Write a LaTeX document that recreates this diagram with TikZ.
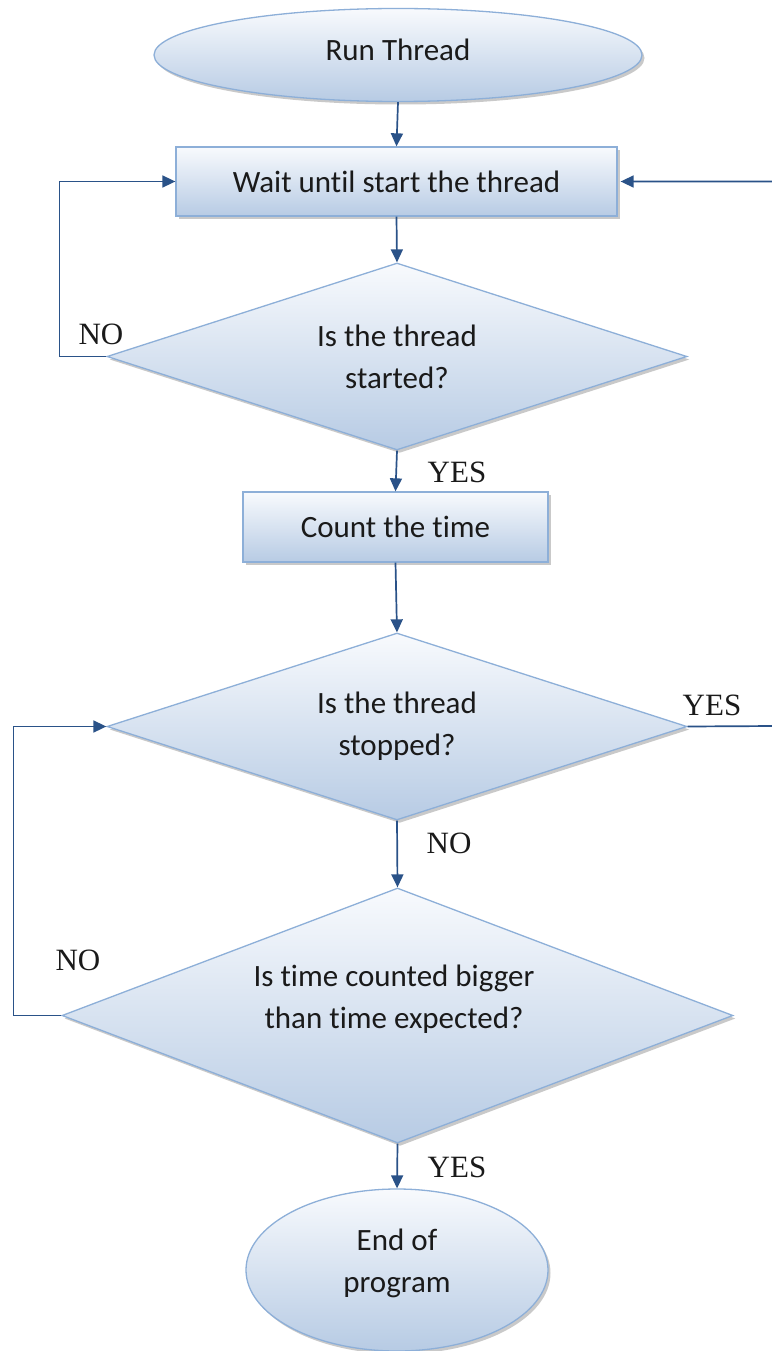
\documentclass[tikz,border=0pt]{standalone}
\usepackage{fontspec}
\setmainfont{Liberation Serif}
\newfontfamily\bodyfont[Ligatures=NoCommon]{Carlito}
\usetikzlibrary{shapes.geometric,shadows,arrows.meta}

\definecolor{edge}{HTML}{8DAFD8}
\definecolor{fillTop}{HTML}{F8FAFD}
\definecolor{fillBot}{HTML}{B7CBE4}
\definecolor{wire}{HTML}{2A5288}
\definecolor{ink}{HTML}{1A1A1A}

\tikzset{
  x=1pt, y=-1pt,
  shape base/.style={draw=edge, line width=1.3pt, top color=fillTop, bottom color=fillBot,
    drop shadow={shadow xshift=2.5pt, shadow yshift=-3pt, fill=black!35, opacity=0.6},
    inner sep=0pt, text=ink, align=center,
    font=\bodyfont\fontsize{31}{42}\selectfont},
  terminal/.style={shape base, ellipse},
  procbox/.style={shape base, rectangle},
  decision/.style={shape base, diamond, shape aspect=3.1},
  flow/.style={draw=wire, line width=1.7pt, -{Triangle[length=13pt,width=12pt]}},
  tag/.style={text=ink, inner sep=0pt, font=\fontsize{31}{32}\selectfont},
  qtext/.style={text=ink, inner sep=0pt, align=center, font=\bodyfont\fontsize{31}{42}\selectfont}
}

\begin{document}
\begin{tikzpicture}
\useasboundingbox[fill=white] (0,0) rectangle (771,1351);

% shapes
\node[terminal, minimum width=488pt, minimum height=93pt, text depth=10pt] (start) at (398,55) {Run Thread};
\node[procbox, minimum width=441pt, minimum height=69pt] (wait) at (396.5,181.5) {Wait until start the thread};
\node[decision, minimum width=580pt, minimum height=187pt] (started) at (397,356.5) {Is the thread\\started?};
\node[procbox, minimum width=305pt, minimum height=70pt] (count) at (395.5,527) {Count the time};
\node[decision, minimum width=580pt, minimum height=187pt] (stopped) at (397,726.5) {Is the thread\\stopped?};
\node[decision, minimum width=671pt, minimum height=255pt] (bigger) at (397.5,1015.5) {};
\node[qtext] (biggertext) at (394,999.5) {Is time counted bigger\\than time expected?};
\node[terminal, minimum width=302pt, minimum height=162pt] (finish) at (397,1270) {};
\node[qtext] (finishtext) at (397,1263) {End of\\program};

% connectors
\draw[flow] (start.south) -- (wait.north);
\draw[flow] (wait.south) -- (started.north);
\draw[flow] (started.west) -- ++(-47,0) |- (wait.west);
\draw[flow] (started.south) -- (count.north);
\draw[flow] (count.south) -- (stopped.north);
\draw[flow] (stopped.south) -- (bigger.north);
\draw[flow] (bigger.west) -- ++(-48,0) |- (stopped.west);
\draw[flow] (bigger.south) -- (finish.north);
\coordinate (rightrail) at (774,726);
\draw[flow] (stopped.east) -- (rightrail) |- ([xshift=3pt]wait.east);

% branch labels
\node[tag] (noA) at (101,334) {NO};
\node[tag] (yesA) at (457,472) {YES};
\node[tag] (yesB) at (712,705) {YES};
\node[tag] (noB) at (449,843) {NO};
\node[tag] (noC) at (78,960) {NO};
\node[tag] (yesC) at (457,1167) {YES};
\end{tikzpicture}
\end{document}
